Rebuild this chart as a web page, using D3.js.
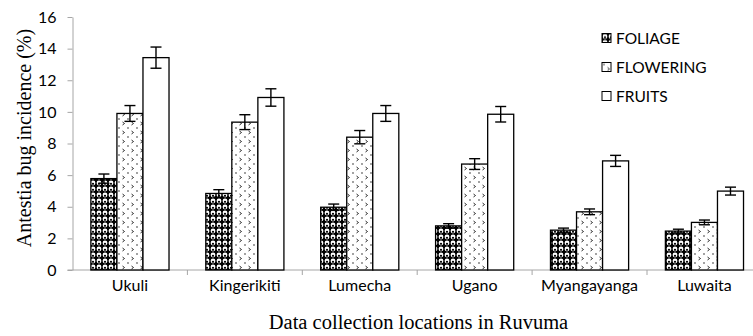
<!DOCTYPE html>
<html>
<head>
<meta charset="utf-8">
<script src="https://cdn.jsdelivr.net/npm/d3@7/dist/d3.min.js"></script>
<style>
  body { margin: 0; background: #fff; }
  .tick text { font-family: Lato, "Open Sans", sans-serif; fill: #000; }
  .axis path, .axis line { stroke: #a6a6a6; }
</style>
</head>
<body>
<div id="chart"></div>
<script>
// values
var locations = ['Ukuli', 'Kingerikiti', 'Lumecha', 'Ugano', 'Myangayanga', 'Luwaita'];
var stages = ['FOLIAGE', 'FLOWERING', 'FRUITS'];
var foliage = [5.78, 4.84, 3.97, 2.79, 2.52, 2.46];
var flowering = [9.9, 9.35, 8.4, 6.7, 3.68, 3.01];
var fruits = [13.43, 10.91, 9.9, 9.85, 6.9, 4.99];
var foliageErr = [0.29, 0.24, 0.2, 0.14, 0.13, 0.12];
var floweringErr = [0.5, 0.47, 0.42, 0.34, 0.18, 0.15];
var fruitsErr = [0.67, 0.55, 0.5, 0.49, 0.35, 0.25];
var yTicks = [0, 2, 4, 6, 8, 10, 12, 14, 16];

var width = 753, height = 336;
var margin = {left: 72.5, top: 17, bottom: 66};

var svg = d3.select('#chart').append('svg')
    .attr('width', width)
    .attr('height', height);

var defs = svg.append('defs');

// foliage fill: black with white "spheres"
var pFol = defs.append('pattern')
    .attr('id', 'pat-foliage')
    .attr('patternUnits', 'userSpaceOnUse')
    .attr('width', 6).attr('height', 6);
pFol.append('rect').attr('width', 6).attr('height', 6).attr('fill', '#000');
pFol.append('circle').attr('cx', 3).attr('cy', 3).attr('r', 2.4).attr('fill', '#fff');
pFol.append('circle').attr('cx', 3).attr('cy', 3.8).attr('r', 1.1).attr('fill', '#000');

// flowering fill: sparse dots and small chevrons
var pFlo = defs.append('pattern')
    .attr('id', 'pat-flowering')
    .attr('patternUnits', 'userSpaceOnUse')
    .attr('width', 9).attr('height', 9);
pFlo.append('rect').attr('width', 9).attr('height', 9).attr('fill', '#fff');
pFlo.append('circle').attr('cx', 2).attr('cy', 2).attr('r', 0.7).attr('fill', '#000');
pFlo.append('path').attr('d', 'M5.5,5 L7.5,6.5 L5.5,8')
    .attr('fill', 'none').attr('stroke', '#000').attr('stroke-width', 0.8);

var fills = {FOLIAGE: 'url(#pat-foliage)', FLOWERING: 'url(#pat-flowering)', FRUITS: '#fff'};

var series = [
  {key: 'FOLIAGE', values: foliage, err: foliageErr},
  {key: 'FLOWERING', values: flowering, err: floweringErr},
  {key: 'FRUITS', values: fruits, err: fruitsErr}
];

var x0 = d3.scaleBand()
    .domain(locations)
    .range([margin.left, margin.left + 6 * 114.9])
    .paddingInner(0.32)
    .paddingOuter(0.16);

var x1 = d3.scaleBand()
    .domain(stages)
    .range([0, x0.bandwidth()]);

var y = d3.scaleLinear()
    .domain([0, 16])
    .range([height - margin.bottom, margin.top]);

// y axis
var yAxis = svg.append('g')
    .attr('class', 'axis')
    .attr('transform', 'translate(' + margin.left + ',0)')
    .call(d3.axisLeft(y).tickValues(yTicks).tickSize(5).tickPadding(11).tickSizeOuter(0));
yAxis.selectAll('text').style('font-size', '16px');

// x axis with ticks on category boundaries
var xAxisG = svg.append('g')
    .attr('class', 'axis')
    .attr('transform', 'translate(0,' + y(0) + ')');
xAxisG.append('line')
    .attr('x1', margin.left - 5).attr('x2', width)
    .attr('y1', 0).attr('y2', 0);
xAxisG.selectAll('line.bound')
    .data(locations.slice(1))
    .enter().append('line')
    .attr('class', 'bound')
    .attr('x1', d => x0(d) - x0.step() * x0.paddingInner() / 2)
    .attr('x2', d => x0(d) - x0.step() * x0.paddingInner() / 2)
    .attr('y1', 0).attr('y2', 5);

svg.append('g').selectAll('text')
    .data(locations)
    .enter().append('text')
    .attr('x', d => x0(d) + x0.bandwidth() / 2)
    .attr('y', y(0) + 20.5)
    .attr('text-anchor', 'middle')
    .style('font-family', 'Lato, "Open Sans", sans-serif')
    .style('font-size', '16px')
    .text(d => d);

// bars
var groups = svg.append('g').selectAll('g')
    .data(series)
    .enter().append('g');

groups.selectAll('rect')
    .data(s => s.values.map((v, i) => ({key: s.key, loc: locations[i], v: v, e: s.err[i]})))
    .enter().append('rect')
    .attr('x', d => x0(d.loc) + x1(d.key))
    .attr('y', d => y(d.v))
    .attr('width', x1.bandwidth())
    .attr('height', d => y(0) - y(d.v))
    .attr('fill', d => fills[d.key])
    .attr('stroke', '#000')
    .attr('stroke-width', 1.3);

// error bars
var errs = groups.selectAll('g.err')
    .data(s => s.values.map((v, i) => ({key: s.key, loc: locations[i], v: v, e: s.err[i]})))
    .enter().append('g')
    .attr('class', 'err')
    .attr('transform', d => 'translate(' + (x0(d.loc) + x1(d.key) + x1.bandwidth() / 2) + ',0)')
    .attr('stroke', '#000')
    .attr('stroke-width', 1.4);
errs.append('line')
    .attr('y1', d => y(d.v + d.e)).attr('y2', d => y(d.v - d.e));
errs.append('line')
    .attr('x1', -5.5).attr('x2', 5.5)
    .attr('y1', d => y(d.v + d.e)).attr('y2', d => y(d.v + d.e));
errs.append('line')
    .attr('x1', -5.5).attr('x2', 5.5)
    .attr('y1', d => y(d.v - d.e)).attr('y2', d => y(d.v - d.e));

// legend
var legend = svg.append('g').selectAll('g')
    .data(stages)
    .enter().append('g')
    .attr('transform', (d, i) => 'translate(602,' + (33.5 + i * 29) + ')');
legend.append('rect')
    .attr('width', 9).attr('height', 9)
    .attr('fill', d => fills[d])
    .attr('stroke', '#000')
    .attr('stroke-width', 1);
legend.append('text')
    .attr('x', 14).attr('y', 10)
    .style('font-family', 'Lato, "Open Sans", sans-serif')
    .style('font-size', '15.5px')
    .text(d => d);

// axis titles
svg.append('text')
    .attr('transform', 'translate(31,138) rotate(-90)')
    .attr('text-anchor', 'middle')
    .style('font-family', '"Liberation Serif", "Times New Roman", serif')
    .style('font-size', '20px')
    .text('Antestia bug incidence (%)');

svg.append('text')
    .attr('x', 418.5).attr('y', 329)
    .attr('text-anchor', 'middle')
    .style('font-family', '"Liberation Serif", "Times New Roman", serif')
    .style('font-size', '20.5px')
    .text('Data collection locations in Ruvuma');
</script>
</body>
</html>
